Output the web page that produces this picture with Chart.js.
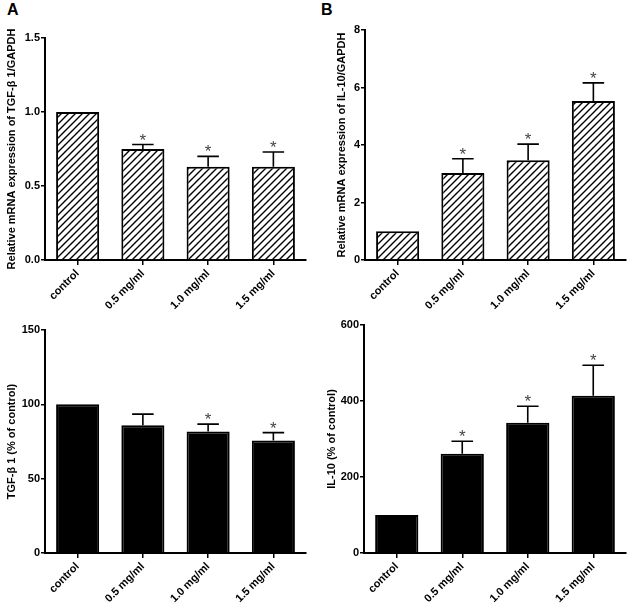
<!DOCTYPE html>
<html lang="en">
<head>
  <meta charset="UTF-8">
  <title>TGF-β 1 / IL-10</title>
  <script src="https://cdn.jsdelivr.net/npm/chart.js@4.4.0/dist/chart.umd.min.js"></script>
  <style>
    body { margin: 0; background: #fff; }
    #wrap { position: relative; width: 629px; height: 608px; overflow: hidden; }
    #wrap canvas { position: absolute; }
    .panel-tag { position: absolute; font: bold 16px Arial, "Liberation Sans", sans-serif; color: #000; }
  </style>
</head>
<body>
  <div id="wrap">
    <div class="panel-tag" style="left:7px; top:1px;">A</div>
    <div class="panel-tag" style="left:321px; top:1px;">B</div>
    <canvas id="chartA" width="314" height="316" style="left:0; top:0;"></canvas>
    <canvas id="chartB" width="315" height="316" style="left:314px; top:0;"></canvas>
    <canvas id="chartC" width="314" height="292" style="left:0; top:316px;"></canvas>
    <canvas id="chartD" width="315" height="292" style="left:314px; top:316px;"></canvas>
  </div>

  <script>
    // 데이터
    const categories = ['control', '0.5 mg/ml', '1.0 mg/ml', '1.5 mg/ml'];

    const tgfMrna = [1.0, 0.75, 0.63, 0.63];
    const tgfMrnaSem = [0, 0.03, 0.07, 0.10];
    const tgfMrnaStar = [false, true, true, true];

    const il10Mrna = [1.0, 3.03, 3.47, 5.53];
    const il10MrnaSem = [0, 0.49, 0.56, 0.63];
    const il10MrnaStar = [false, true, true, true];

    const tgfPct = [100, 86, 81.7, 75.7];
    const tgfPctSem = [0, 7.4, 5.0, 5.3];
    const tgfPctStar = [false, false, true, true];

    const il10Pct = [100, 261, 343, 414];
    const il10PctSem = [0, 33, 43, 80];
    const il10PctStar = [false, true, true, true];

    const FONT = 'Arial, "Liberation Sans", sans-serif';

    // 사선 패턴
    function makeHatch() {
      const s = 7;
      const c = document.createElement('canvas');
      c.width = s; c.height = s;
      const g = c.getContext('2d');
      g.fillStyle = '#fff';
      g.fillRect(0, 0, s, s);
      g.strokeStyle = '#000';
      g.lineWidth = 1.4;
      g.beginPath();
      g.moveTo(-1, s + 1); g.lineTo(s + 1, -1);
      g.moveTo(-1, 1); g.lineTo(1, -1);
      g.moveTo(s - 1, s + 1); g.lineTo(s + 1, s - 1);
      g.stroke();
      return g.createPattern(c, 'repeat');
    }
    const hatch = makeHatch();

    // 에러바 + 별표
    const errorBars = {
      id: 'errorBars',
      afterDatasetsDraw(chart, args, opts) {
        const ctx = chart.ctx;
        const y = chart.scales.y;
        const bars = chart.getDatasetMeta(0).data;
        ctx.save();
        ctx.strokeStyle = '#000';
        ctx.lineWidth = 1.6;
        bars.forEach((bar, i) => {
          const v = opts.values[i];
          const yErr = y.getPixelForValue(v + opts.sem[i]);
          if (opts.sem[i] > 0) {
            const half = bar.width / 4;
            ctx.beginPath();
            ctx.moveTo(bar.x, bar.y);
            ctx.lineTo(bar.x, yErr);
            ctx.moveTo(bar.x - half, yErr);
            ctx.lineTo(bar.x + half, yErr);
            ctx.stroke();
          }
          if (opts.stars[i]) {
            ctx.fillStyle = '#444';
            ctx.font = '17px ' + FONT;
            ctx.textAlign = 'center';
            ctx.textBaseline = 'alphabetic';
            ctx.fillText('*', bar.x, yErr + 1);
          }
        });
        ctx.restore();
      }
    };

    function makeChart(id, cfg) {
      return new Chart(document.getElementById(id), {
        type: 'bar',
        plugins: [errorBars],
        data: {
          labels: categories,
          datasets: [{
            data: cfg.values,
            backgroundColor: cfg.fill,
            borderColor: '#000',
            borderWidth: 2,
            categoryPercentage: 1,
            barPercentage: 0.66
          }]
        },
        options: {
          responsive: false,
          animation: false,
          layout: { padding: { top: cfg.padTop, right: cfg.padRight, left: 0, bottom: 0 } },
          plugins: {
            legend: { display: false },
            tooltip: { enabled: false },
            errorBars: { values: cfg.values, sem: cfg.sem, stars: cfg.stars }
          },
          scales: {
            x: {
              afterFit: (s) => { s.height = cfg.xHeight; },
              border: { display: true, color: '#000', width: 2 },
              grid: { display: true, offset: false, drawOnChartArea: false, color: '#000', lineWidth: 1.5, tickLength: 5 },
              ticks: {
                color: '#000', padding: 2, minRotation: 45, maxRotation: 45,
                font: { family: FONT, size: 11, weight: 'bold' }
              }
            },
            y: {
              min: 0, max: cfg.max,
              afterFit: (s) => { s.width = cfg.yWidth; },
              border: { display: true, color: '#000', width: 2 },
              grid: { display: true, drawOnChartArea: false, color: '#000', lineWidth: 1.5, tickLength: 4 },
              ticks: {
                stepSize: cfg.step, color: '#000', padding: 1,
                font: { family: FONT, size: 11, weight: 'bold' },
                callback: cfg.fmt
              },
              title: {
                display: true, text: cfg.title, color: '#000',
                padding: { top: cfg.titlePad, bottom: 0 },
                font: { family: FONT, size: 11, weight: 'bold' }
              }
            }
          }
        }
      });
    }

    makeChart('chartA', {
      values: tgfMrna, sem: tgfMrnaSem, stars: tgfMrnaStar, fill: hatch,
      max: 1.5, step: 0.5, fmt: (v) => v.toFixed(1),
      title: 'Relative mRNA expression of TGF-β 1/GAPDH', titlePad: 5,
      padTop: 38, padRight: 8, yWidth: 45, xHeight: 56
    });

    makeChart('chartB', {
      values: il10Mrna, sem: il10MrnaSem, stars: il10MrnaStar, fill: hatch,
      max: 8, step: 2, fmt: (v) => v,
      title: 'Relative mRNA expression of IL-10/GAPDH', titlePad: 21,
      padTop: 30, padRight: 3, yWidth: 51, xHeight: 56
    });

    makeChart('chartC', {
      values: tgfPct, sem: tgfPctSem, stars: tgfPctStar, fill: '#000',
      max: 150, step: 50, fmt: (v) => v,
      title: 'TGF-β 1 (% of control)', titlePad: 5,
      padTop: 14, padRight: 8, yWidth: 45, xHeight: 55
    });

    makeChart('chartD', {
      values: il10Pct, sem: il10PctSem, stars: il10PctStar, fill: '#000',
      max: 600, step: 200, fmt: (v) => v,
      title: 'IL-10 (% of control)', titlePad: 11,
      padTop: 9, padRight: 3, yWidth: 50, xHeight: 55
    });
  </script>
</body>
</html>
